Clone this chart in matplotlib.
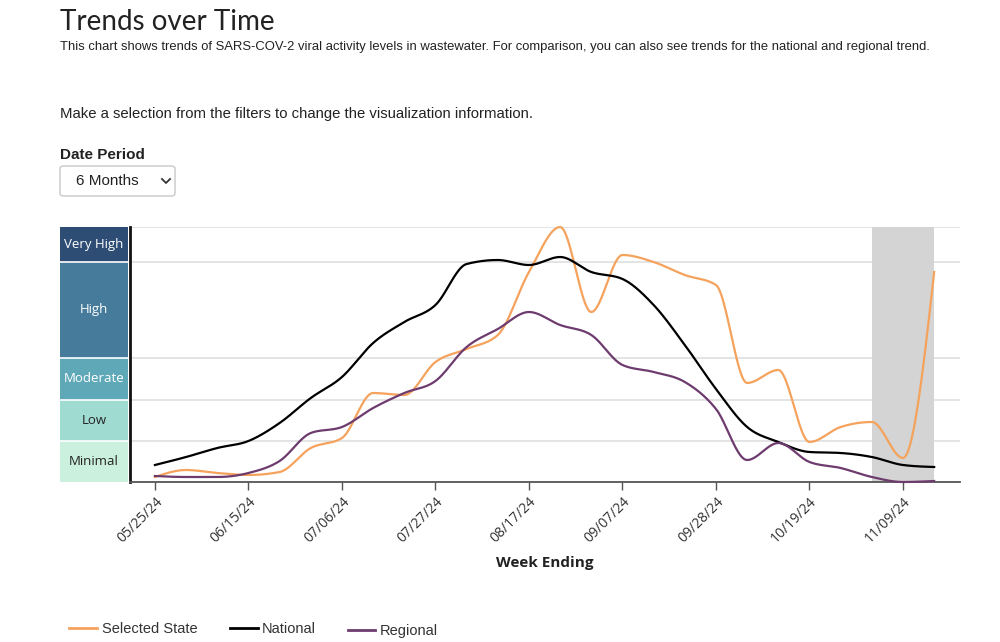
import matplotlib
matplotlib.use("Agg")
import matplotlib.pyplot as plt
from matplotlib.lines import Line2D
from matplotlib.patches import FancyBboxPatch
import matplotlib.dates as mdates
import numpy as np
import pandas as pd

# DATA (weekly, index scale 0..255 where level bands sit)
dates = pd.date_range("2024-05-25", periods=26, freq="7D")
national = [17, 25, 34, 41, 59, 84, 105, 139, 160, 177, 218, 222, 217,
            225, 210, 203, 177, 137, 93, 55, 40, 30, 29, 25, 17, 15]
selected = [5, 12, 9, 7, 10, 34, 44, 89, 87, 120, 133, 147, 210,
            255, 170, 227, 220, 207, 197, 99, 112, 40, 55, 60, 24, 210]
regional = [6, 5, 5, 9, 21, 49, 55, 74, 89, 101, 135, 153, 170,
            157, 147, 117, 110, 100, 73, 22, 39, 20, 14, 5, 0, 1]

levels = ["Minimal", "Low", "Moderate", "High", "Very High"]
level_edges = [0, 41, 82, 124, 220, 255]
level_colors = ["#cbf0dd", "#a0dbd2", "#5fa8b8", "#467b9b", "#2e4d74"]
level_text = ["#222222", "#222222", "white", "white", "white"]

tick_dates = dates[::3]
tick_labels = [d.strftime("%m/%d/%y") for d in tick_dates]
shade_start = dates[23]
shade_end = dates[25]

W, H = 1000, 642


def px(x, y):
    return x / W, 1 - y / H


def monotone_x(x, y, n=24):
    # same idea as d3.curveMonotoneX
    x = np.asarray(x, float)
    y = np.asarray(y, float)
    m = len(x)
    t = np.zeros(m)
    for i in range(1, m - 1):
        h0 = x[i] - x[i - 1]
        h1 = x[i + 1] - x[i]
        s0 = (y[i] - y[i - 1]) / h0
        s1 = (y[i + 1] - y[i]) / h1
        p = (s0 * h1 + s1 * h0) / (h0 + h1)
        t[i] = (np.sign(s0) + np.sign(s1)) * min(abs(s0), abs(s1), 0.5 * abs(p))
    t[0] = (3 * (y[1] - y[0]) / (x[1] - x[0]) - t[1]) / 2
    t[-1] = (3 * (y[-1] - y[-2]) / (x[-1] - x[-2]) - t[-2]) / 2
    xs, ys = [], []
    for i in range(m - 1):
        h = x[i + 1] - x[i]
        s = np.linspace(0, 1, n, endpoint=False)
        h00 = 2 * s**3 - 3 * s**2 + 1
        h10 = s**3 - 2 * s**2 + s
        h01 = -2 * s**3 + 3 * s**2
        h11 = s**3 - s**2
        xs.append(x[i] + s * h)
        ys.append(h00 * y[i] + h10 * h * t[i] + h01 * y[i + 1] + h11 * h * t[i + 1])
    xs.append([x[-1]])
    ys.append([y[-1]])
    return np.concatenate(xs), np.concatenate(ys)


fig = plt.figure(figsize=(W / 100, H / 100), dpi=100)
fig.patch.set_facecolor("white")

# header texts
fig.text(*px(60, 22), "Trends over Time", fontsize=20, family="Lato",
         va="center", ha="left", color="#222222")
fig.text(*px(60, 47), "This chart shows trends of SARS-COV-2 viral activity levels in wastewater. "
         "For comparison, you can also see trends for the national and regional trend.",
         fontsize=9.35, family="Liberation Sans", va="center", ha="left", color="#222222")
fig.text(*px(60, 114), "Make a selection from the filters to change the visualization information.",
         fontsize=10.7, family="Liberation Sans", va="center", ha="left", color="#222222")
fig.text(*px(60, 155), "Date Period", fontsize=11, family="Liberation Sans",
         weight="bold", va="center", ha="left", color="#222222")

# dropdown box
bx0, by0 = px(60, 196)
bx1, by1 = px(175, 166)
box = FancyBboxPatch((bx0, by0), bx1 - bx0, by1 - by0,
                     boxstyle="round,pad=0,rounding_size=0.004",
                     transform=fig.transFigure, facecolor="white",
                     edgecolor="#c8c8c8", linewidth=1)
fig.add_artist(box)
fig.text(*px(76, 181), "6 Months", fontsize=11, family="Liberation Sans",
         va="center", ha="left", color="#222222")
cx, cy = 166, 181
fig.add_artist(Line2D([(cx - 4) / W, cx / W, (cx + 4) / W],
                      [1 - (cy - 2) / H, 1 - (cy + 2) / H, 1 - (cy - 2) / H],
                      transform=fig.transFigure, color="#333333", linewidth=1.3))

# level band strip
axb = fig.add_axes([60 / W, 1 - 482 / H, 68 / W, 255 / H])
for i in range(len(levels)):
    axb.axhspan(level_edges[i], level_edges[i + 1], color=level_colors[i], lw=0)
    if i > 0:
        axb.axhline(level_edges[i], color="white", lw=1.2)
    axb.text(0.5, (level_edges[i] + level_edges[i + 1]) / 2, levels[i],
             ha="center", va="center", fontsize=9.5, family="Open Sans",
             color=level_text[i], transform=axb.get_yaxis_transform())
axb.set_ylim(0, 255)
axb.set_xlim(0, 1)
axb.axis("off")

# main chart
ax = fig.add_axes([130 / W, 1 - 482 / H, 830 / W, 255 / H])
xnum = mdates.date2num(dates)
ax.set_xlim(xnum[0] - 5.6, xnum[-1] + 5.8)
ax.set_ylim(0, 255)

for e in level_edges[1:]:
    ax.axhline(e, color="#e2e2e2", lw=1.3, zorder=1)

ax.axvspan(mdates.date2num(shade_start), mdates.date2num(shade_end),
           ymin=0, ymax=1, color="#d4d4d4", lw=0, zorder=1.5)

series = [(selected, "#f5a25d", "Selected State"),
          (national, "#000000", "National"),
          (regional, "#6e3b6e", "Regional")]
for vals, col, name in series:
    sx, sy = monotone_x(xnum, vals)
    ax.plot(sx, sy, color=col, lw=1.6, zorder=3, clip_on=False)

for s in ["top", "right"]:
    ax.spines[s].set_visible(False)
ax.spines["left"].set_color("#111111")
ax.spines["left"].set_linewidth(2)
ax.spines["bottom"].set_color("#555555")
ax.spines["bottom"].set_linewidth(1.3)
ax.set_yticks([])
ax.set_xticks(mdates.date2num(tick_dates))
ax.set_xticklabels(tick_labels, rotation=45, ha="right", va="top",
                   rotation_mode="anchor", fontsize=10, family="Open Sans",
                   color="#333333")
ax.tick_params(axis="x", length=6, width=1, color="#555555", pad=3)

fig.text(*px(545, 563), "Week Ending", fontsize=11, family="Open Sans",
         weight="bold", ha="center", va="center", color="#222222")

# legend
leg = [(69, 97, 102, 629), (230, 258, 262, 629), (348, 375, 380, 631)]
for (l0, l1, tx, ty), (vals, col, name) in zip(leg, series):
    fig.add_artist(Line2D([l0 / W, l1 / W], [1 - (ty - 1) / H] * 2,
                          transform=fig.transFigure, color=col, lw=2))
    fig.text(*px(tx, ty), name, fontsize=10.5, family="Liberation Sans",
             ha="left", va="center", color="#333333")

fig.savefig("out.png", dpi=100)
